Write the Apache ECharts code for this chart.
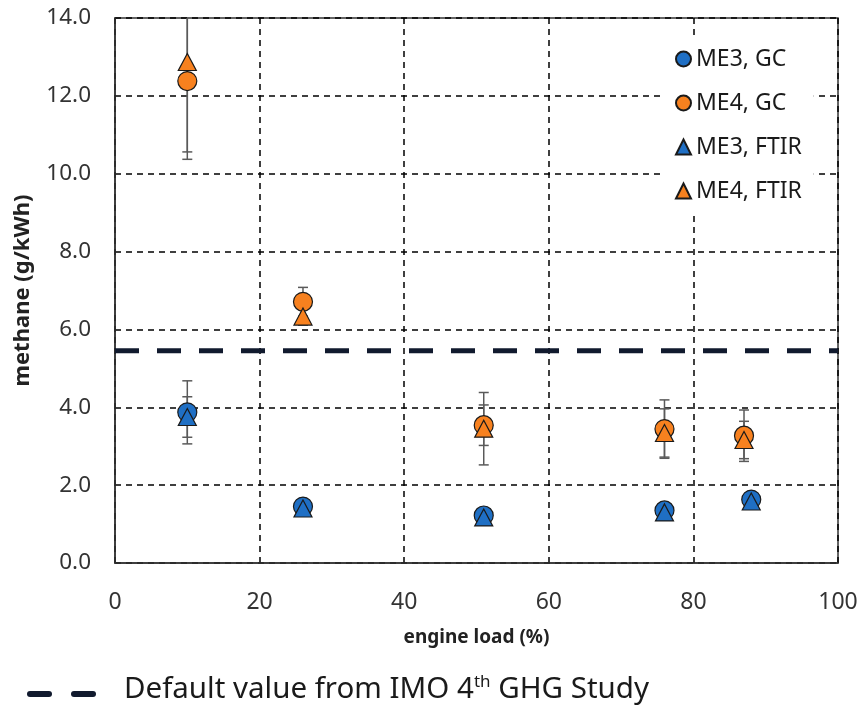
<!DOCTYPE html>
<html>
<head>
<meta charset="utf-8">
<script src="https://cdn.jsdelivr.net/npm/echarts@6/dist/echarts.min.js"></script>
<style>html,body{margin:0;padding:0;background:#fff;}#c{width:861px;height:710px;}</style>
</head>
<body>
<div id="c"></div>
<script>
// engine load (%)
const loadME3 = [10, 26, 51, 76, 88];
const loadME4 = [10, 26, 51, 76, 87];
// methane (g/kWh)
const me3GC   = [3.87, 1.45, 1.22, 1.35, 1.63];
const me3FTIR = [3.75, 1.40, 1.17, 1.30, 1.58];
const me4GC   = [12.38, 6.71, 3.54, 3.44, 3.27];
const me4FTIR = [12.87, 6.33, 3.45, 3.34, 3.16];
// error bar half-widths
const me3GCErr   = [0.81, 0, 0, 0, 0];
const me3FTIRErr = [0.52, 0, 0, 0, 0];
const me4GCErr   = [2.01, 0.37, 0.52, 0.75, 0.66];
const me4FTIRErr = [2.31, 0.22, 0.93, 0.62, 0.48];
// IMO default value
const imoDefault = 5.45;
const xTicks = [0, 20, 40, 60, 80, 100];
const yTicks = [0, 2, 4, 6, 8, 10, 12, 14];

const BLUE = '#1f6fc4';
const ORANGE = '#f7811f';
const FONT = 'Noto Sans';

function errData(xs, ys, es) {
  return xs.map((x, i) => [x, ys[i], es[i]]).filter(d => d[2] > 0);
}
function pts(xs, ys) { return xs.map((x, i) => [x, ys[i]]); }

function renderErr(params, api) {
  const x = api.value(0), y = api.value(1), e = api.value(2);
  const t = api.coord([x, y + e]);
  const b = api.coord([x, y - e]);
  const w = 5;
  const st = { stroke: '#5a5a5a', lineWidth: 1.5 };
  return {
    type: 'group',
    children: [
      { type: 'line', shape: { x1: t[0], y1: t[1], x2: b[0], y2: b[1] }, style: st },
      { type: 'line', shape: { x1: t[0] - w, y1: t[1], x2: t[0] + w, y2: t[1] }, style: st },
      { type: 'line', shape: { x1: b[0] - w, y1: b[1], x2: b[0] + w, y2: b[1] }, style: st }
    ]
  };
}

const chart = echarts.init(document.getElementById('c'), null, { renderer: 'canvas' });
const option = {
  backgroundColor: '#fff',
  animation: false,
  textStyle: { fontFamily: FONT },
  grid: { left: 115, right: 23, top: 18, bottom: 147, show: true, borderColor: '#333', borderWidth: 1.5, backgroundColor: 'transparent' },
  xAxis: {
    type: 'value', min: xTicks[0], max: xTicks[xTicks.length - 1], interval: 20,
    name: 'engine load (%)', nameLocation: 'middle', nameGap: 65,
    nameTextStyle: { fontFamily: FONT, fontSize: 19, fontWeight: 'bold', color: '#222' },
    axisLine: { show: true, lineStyle: { color: '#333', width: 1.5 } },
    axisTick: { show: false },
    axisLabel: { fontFamily: FONT, fontSize: 23, color: '#333', margin: 28 },
    splitLine: { show: true, lineStyle: { color: '#000', width: 1.5, type: [6, 5] } }
  },
  yAxis: {
    type: 'value', min: yTicks[0], max: yTicks[yTicks.length - 1], interval: 2,
    name: 'methane (g/kWh)', nameLocation: 'middle', nameGap: 81,
    nameTextStyle: { fontFamily: FONT, fontSize: 22, fontWeight: 'bold', color: '#222' },
    axisLine: { show: true, lineStyle: { color: '#333', width: 1.5 } },
    axisTick: { show: false },
    axisLabel: { fontFamily: FONT, fontSize: 22.5, color: '#333', margin: 24, formatter: v => v.toFixed(1) },
    splitLine: { show: true, lineStyle: { color: '#000', width: 1.5, type: [6, 5] } }
  },
  legend: {
    data: ['ME3, GC', 'ME4, GC', 'ME3, FTIR', 'ME4, FTIR'],
    orient: 'vertical', left: 664, top: 37,
    backgroundColor: '#fff', padding: [10, 12, 10, 11],
    itemWidth: 15, itemHeight: 15, itemGap: 20,
    textStyle: { fontFamily: FONT, fontSize: 23, color: '#1a1a1a', lineHeight: 24 }
  },
  series: [
    {
      type: 'line', name: 'IMO', data: [[xTicks[0], imoDefault], [xTicks[xTicks.length - 1], imoDefault]],
      symbol: 'none', lineStyle: { color: '#111a2e', width: 5, type: [24, 18] }, z: 3, silent: true
    },
    { type: 'custom', name: 'errME3GC', renderItem: renderErr, data: errData(loadME3, me3GC, me3GCErr), clip: true, z: 4, silent: true },
    { type: 'custom', name: 'errME3FTIR', renderItem: renderErr, data: errData(loadME3, me3FTIR, me3FTIRErr), clip: true, z: 4, silent: true },
    { type: 'custom', name: 'errME4GC', renderItem: renderErr, data: errData(loadME4, me4GC, me4GCErr), clip: true, z: 4, silent: true },
    { type: 'custom', name: 'errME4FTIR', renderItem: renderErr, data: errData(loadME4, me4FTIR, me4FTIRErr), clip: true, z: 4, silent: true },
    { type: 'scatter', name: 'ME3, GC', data: pts(loadME3, me3GC), symbol: 'circle', symbolSize: 19,
      itemStyle: { color: BLUE, borderColor: '#1a1a1a', borderWidth: 1.2, opacity: 1 }, z: 5 },
    { type: 'scatter', name: 'ME4, GC', data: pts(loadME4, me4GC), symbol: 'circle', symbolSize: 19,
      itemStyle: { color: ORANGE, borderColor: '#1a1a1a', borderWidth: 1.2, opacity: 1 }, z: 5 },
    { type: 'scatter', name: 'ME3, FTIR', data: pts(loadME3, me3FTIR), symbol: 'triangle', symbolSize: [18, 17],
      itemStyle: { color: BLUE, borderColor: '#1a1a1a', borderWidth: 1.2, opacity: 1 }, z: 6 },
    { type: 'scatter', name: 'ME4, FTIR', data: pts(loadME4, me4FTIR), symbol: 'triangle', symbolSize: [18, 17],
      itemStyle: { color: ORANGE, borderColor: '#1a1a1a', borderWidth: 1.2, opacity: 1 }, z: 6 }
  ],
  graphic: [
    { type: 'line', left: 27, top: 691, shape: { x1: 0, y1: 0, x2: 19, y2: 0 }, style: { stroke: '#111a2e', lineWidth: 6, lineCap: 'round' } },
    { type: 'line', left: 71, top: 691, shape: { x1: 0, y1: 0, x2: 19, y2: 0 }, style: { stroke: '#111a2e', lineWidth: 6, lineCap: 'round' } },
    {
      type: 'text', left: 124, top: 674,
      style: {
        text: '{a|Default value from IMO 4}{s|th}{a| GHG Study}',
        rich: {
          a: { fontFamily: FONT, fontSize: 29.5, fill: '#1a1a1a', lineHeight: 36 },
          s: { fontFamily: FONT, fontSize: 17, fill: '#1a1a1a', lineHeight: 36, padding: [0, 0, 14, 0] }
        }
      }
    }
  ]
};
chart.setOption(option);
</script>
</body>
</html>
